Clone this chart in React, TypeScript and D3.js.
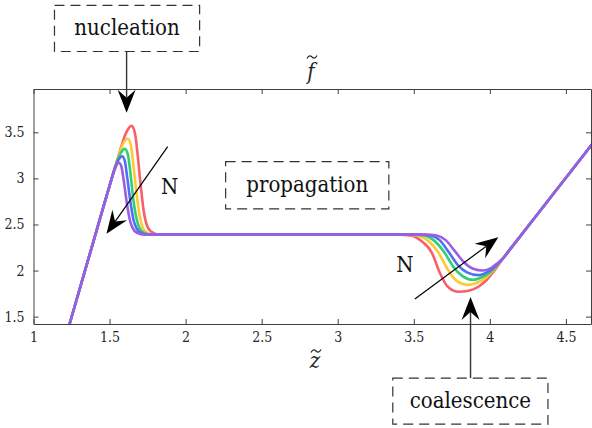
import React, { useEffect, useRef } from "react";
import * as d3 from "d3";

// shared pieces of every curve (z, f)
const riseShared: [number, number][] = [[1.237, 1.42], [1.4, 2.35], [1.5, 2.92]];
const plateauShared: [number, number][] = [[2.0, 2.39], [3.0, 2.39]];
const endShared: [number, number][] = [[4.09, 2.139], [4.13, 2.224], [4.4, 2.795], [4.67, 3.366]];

// nucleation peaks, N increasing red -> purple
const peakRed: [number, number][] = [[1.56, 3.25], [1.61, 3.5], [1.645, 3.57], [1.667, 3.49], [1.685, 3.25], [1.705, 2.92], [1.725, 2.64], [1.748, 2.48], [1.775, 2.42], [1.82, 2.39]];
const peakYellow: [number, number][] = [[1.55, 3.19], [1.59, 3.38], [1.62, 3.43], [1.64, 3.36], [1.657, 3.14], [1.677, 2.84], [1.697, 2.6], [1.717, 2.47], [1.745, 2.41], [1.79, 2.39]];
const peakGreen: [number, number][] = [[1.54, 3.14], [1.575, 3.28], [1.601, 3.32], [1.62, 3.26], [1.637, 3.06], [1.655, 2.79], [1.675, 2.58], [1.697, 2.46], [1.725, 2.41], [1.77, 2.39]];
const peakBlue: [number, number][] = [[1.535, 3.11], [1.562, 3.21], [1.583, 3.24], [1.6, 3.19], [1.617, 3.0], [1.636, 2.76], [1.656, 2.56], [1.677, 2.46], [1.705, 2.41], [1.75, 2.39]];
const peakPurple: [number, number][] = [[1.53, 3.08], [1.548, 3.15], [1.561, 3.17], [1.576, 3.14], [1.593, 2.98], [1.612, 2.75], [1.632, 2.56], [1.652, 2.46], [1.68, 2.41], [1.73, 2.39]];

// coalescence dips
const dipRed: [number, number][] = [[3.4, 2.39], [3.48, 2.38], [3.55, 2.32], [3.62, 2.19], [3.67, 1.98], [3.72, 1.83], [3.79, 1.77], [3.86, 1.78], [3.93, 1.83], [3.98, 1.9], [4.03, 2.0]];
const dipYellow: [number, number][] = [[3.45, 2.39], [3.52, 2.38], [3.59, 2.33], [3.66, 2.2], [3.72, 2.02], [3.78, 1.89], [3.857, 1.845], [3.92, 1.87], [3.98, 1.93], [4.03, 2.02]];
const dipGreen: [number, number][] = [[3.5, 2.39], [3.57, 2.38], [3.63, 2.33], [3.7, 2.2], [3.76, 2.04], [3.82, 1.94], [3.89, 1.9], [3.95, 1.93], [4.0, 1.98], [4.04, 2.05]];
const dipBlue: [number, number][] = [[3.54, 2.39], [3.61, 2.38], [3.67, 2.33], [3.73, 2.2], [3.79, 2.06], [3.85, 1.98], [3.923, 1.95], [3.98, 1.98], [4.04, 2.05]];
const dipPurple: [number, number][] = [[3.58, 2.39], [3.65, 2.38], [3.71, 2.33], [3.77, 2.21], [3.83, 2.09], [3.89, 2.02], [3.955, 2.0], [4.01, 2.03], [4.05, 2.08]];

const seriesNames = ["N1", "N2", "N3", "N4", "N5"];
const peaks = [peakRed, peakYellow, peakGreen, peakBlue, peakPurple];
const dips = [dipRed, dipYellow, dipGreen, dipBlue, dipPurple];
const colors = ["#f95f6a", "#ffc933", "#2fcf74", "#4f70f2", "#9b5de5"];

const xTicks = [1, 1.5, 2, 2.5, 3, 3.5, 4, 4.5];
const yTicks = [1.5, 2, 2.5, 3, 3.5];

// annotations, in data units
const boxes = [
  { text: "nucleation", x0: 1.138, x1: 2.092, y0: 4.877, y1: 4.377 },
  { text: "propagation", x0: 2.263, x1: 3.336, y0: 3.181, y1: 2.67 },
  { text: "coalescence", x0: 3.362, x1: 4.382, y0: 0.833, y1: 0.333 },
];
const arrows = [
  { x0: 1.612, y0: 4.377, x1: 1.612, y1: 3.713, heavy: true },
  { x0: 3.873, y0: 0.833, x1: 3.873, y1: 1.713, heavy: true },
  { x0: 1.882, y0: 3.344, x1: 1.48, y1: 2.398, heavy: false },
  { x0: 3.507, y0: 1.692, x1: 4.056, y1: 2.36, heavy: false },
];
const nLabels = [
  { x: 1.895, y: 2.909 },
  { x: 3.441, y: 2.072 },
];

const W = 592;
const H = 428;
const serif = "'DejaVu Serif Condensed', 'DejaVu Serif', 'Liberation Serif', serif";

export default function App() {
  const ref = useRef<SVGSVGElement>(null);

  useEffect(() => {
    if (!ref.current) return;
    const svg = d3.select(ref.current);
    svg.selectAll("*").remove();

    const x = d3.scaleLinear().domain([1, 4.665]).range([33.5, 591]);
    const y = d3.scaleLinear().domain([1.42, 3.97]).range([324, 89]);

    svg.append("defs").append("clipPath").attr("id", "plot")
      .append("rect")
      .attr("x", x(1)).attr("y", y(3.97))
      .attr("width", x(4.665) - x(1)).attr("height", y(1.42) - y(3.97));

    // axes
    const axisColor = "#404040";
    const styleAxis = (g: any) => {
      g.selectAll("path, line").attr("stroke", axisColor).attr("stroke-width", 1);
      g.selectAll("text").attr("fill", "#262626").style("font-family", serif).style("font-size", "14px");
    };
    svg.append("g").attr("transform", `translate(0,${y(1.42)})`)
      .call(d3.axisBottom(x).tickValues(xTicks).tickSizeInner(-5).tickSizeOuter(0).tickPadding(8).tickFormat((d: any) => String(d)))
      .call(styleAxis);
    svg.append("g").attr("transform", `translate(0,${y(3.97)})`)
      .call(d3.axisTop(x).tickValues(xTicks).tickSizeInner(-5).tickSizeOuter(0).tickFormat(() => ""))
      .call(styleAxis);
    svg.append("g").attr("transform", `translate(${x(1)},0)`)
      .call(d3.axisLeft(y).tickValues(yTicks).tickSizeInner(-5).tickSizeOuter(0).tickPadding(9).tickFormat((d: any) => String(d)))
      .call(styleAxis);
    svg.append("g").attr("transform", `translate(${x(4.665)},0)`)
      .call(d3.axisRight(y).tickValues(yTicks).tickSizeInner(-5).tickSizeOuter(0).tickFormat(() => ""))
      .call(styleAxis);

    // curves
    const line = d3.line<[number, number]>()
      .x((d) => x(d[0]))
      .y((d) => y(d[1]))
      .curve(d3.curveMonotoneX);
    const series = seriesNames.map((name, i) => ({
      name,
      color: colors[i],
      points: [...riseShared, ...peaks[i], ...plateauShared, ...dips[i], ...endShared],
    }));
    svg.append("g").attr("clip-path", "url(#plot)")
      .selectAll("path")
      .data(series)
      .enter()
      .append("path")
      .attr("d", (d) => line(d.points as [number, number][]))
      .attr("fill", "none")
      .attr("stroke", (d) => d.color)
      .attr("stroke-width", 2.6)
      .attr("stroke-linejoin", "round");

    // axis labels with a drawn tilde accent
    const tilde = (cx: number, cy: number) =>
      `M${cx - 5},${cy + 1.5} C${cx - 3},${cy - 2.5} ${cx - 1},${cy - 1} ${cx},${cy} S${cx + 3},${cy + 2.5} ${cx + 5},${cy - 1.5}`;
    svg.append("text").attr("x", 311).attr("y", 79)
      .attr("text-anchor", "middle").style("font-family", serif).style("font-style", "italic").style("font-size", "22px")
      .attr("fill", "#262626").text("f");
    svg.append("path").attr("d", tilde(312, 57)).attr("fill", "none").attr("stroke", "#262626").attr("stroke-width", 1.2);
    svg.append("text").attr("x", 315).attr("y", 368)
      .attr("text-anchor", "middle").style("font-family", serif).style("font-style", "italic").style("font-size", "22px")
      .attr("fill", "#262626").text("z");
    svg.append("path").attr("d", tilde(316, 351)).attr("fill", "none").attr("stroke", "#262626").attr("stroke-width", 1.2);

    // dashed boxes
    const bx = svg.append("g").selectAll("g").data(boxes).enter().append("g");
    bx.append("rect")
      .attr("x", (d) => x(d.x0)).attr("y", (d) => y(d.y0))
      .attr("width", (d) => x(d.x1) - x(d.x0)).attr("height", (d) => y(d.y1) - y(d.y0))
      .attr("fill", "white").attr("stroke", "#333").attr("stroke-width", 1.2)
      .attr("stroke-dasharray", "10,6");
    bx.append("text")
      .attr("x", (d) => (x(d.x0) + x(d.x1)) / 2)
      .attr("y", (d) => (y(d.y0) + y(d.y1)) / 2)
      .attr("dy", "0.32em")
      .attr("text-anchor", "middle")
      .style("font-family", serif).style("font-size", "22px")
      .attr("fill", "#111").text((d) => d.text);

    // arrows
    const ag = svg.append("g");
    arrows.forEach((a) => {
      const px0 = x(a.x0), py0 = y(a.y0), px1 = x(a.x1), py1 = y(a.y1);
      const ang = Math.atan2(py1 - py0, px1 - px0);
      const headLen = 23, notch = 15, half = 9;
      const cos = Math.cos(ang), sin = Math.sin(ang);
      const pt = (along: number, side: number) =>
        [px1 - along * cos - side * sin, py1 - along * sin + side * cos];
      ag.append("line")
        .attr("x1", px0).attr("y1", py0)
        .attr("x2", pt(notch, 0)[0]).attr("y2", pt(notch, 0)[1])
        .attr("stroke", a.heavy ? "#333" : "#000")
        .attr("stroke-width", a.heavy ? 1.4 : 1.2);
      const head = [pt(0, 0), pt(headLen, half), pt(notch, 0), pt(headLen, -half)];
      ag.append("path")
        .attr("d", "M" + head.map((p) => p.join(",")).join("L") + "Z")
        .attr("fill", "#000");
    });

    svg.append("g").selectAll("text").data(nLabels).enter().append("text")
      .attr("x", (d) => x(d.x)).attr("y", (d) => y(d.y))
      .attr("dy", "0.35em").attr("text-anchor", "middle")
      .style("font-family", serif).style("font-size", "22px")
      .attr("fill", "#111").text("N");
  }, []);

  return (
    <svg
      ref={ref}
      width={W}
      height={H}
      style={{ position: "absolute", left: 0, top: 0, background: "white", display: "block" }}
    />
  );
}
